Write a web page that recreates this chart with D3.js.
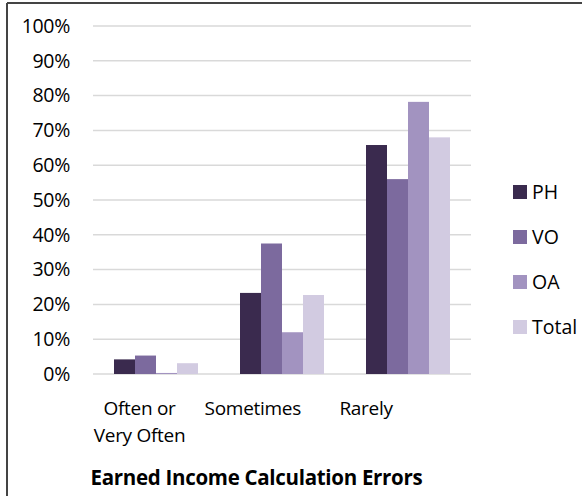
<!DOCTYPE html>
<html><head><meta charset="utf-8">
<script src="https://cdn.jsdelivr.net/npm/d3@7"></script>
<style>body{margin:0;background:#fff}svg{display:block}text{font-family:"Open Sans",sans-serif}</style>
</head><body>
<svg id="c" width="582" height="496"></svg>
<script>
const categories = ["Often or\nVery Often", "Sometimes", "Rarely"];
const seriesNames = ["PH", "VO", "OA", "Total"];
const PH = [4.2, 23.3, 65.8];
const VO = [5.3, 37.5, 56.0];
const OA = [0.3, 12.0, 78.2];
const Total = [3.1, 22.7, 68.0];
const yTicks = [0, 10, 20, 30, 40, 50, 60, 70, 80, 90, 100];
const colors = ["#3a2a4e", "#7c6a9e", "#a293c0", "#d2cbe1"];
const title = "Earned Income Calculation Errors";

const seriesVals = [PH, VO, OA, Total];
const svg = d3.select("#c");

// frame (left and top edges visible)
svg.append("line").attr("x1", 7).attr("x2", 582).attr("y1", 3).attr("y2", 3).attr("stroke", "#444").attr("stroke-width", 2);
svg.append("line").attr("x1", 7).attr("x2", 7).attr("y1", 3).attr("y2", 496).attr("stroke", "#444").attr("stroke-width", 2);

const x0 = d3.scaleBand().domain(categories).range([93, 471]).paddingInner(1/3).paddingOuter(1/6);
const x1 = d3.scaleBand().domain(seriesNames).range([0, x0.bandwidth()]);
const y = d3.scaleLinear().domain([0, 100]).range([374, 26]);
const xLab = d3.scalePoint().domain(categories).range([139.5, 366]);

// gridlines
svg.append("g").selectAll("line").data(yTicks).join("line")
  .attr("x1", 93).attr("x2", 471)
  .attr("y1", d => y(d)).attr("y2", d => y(d))
  .attr("stroke", "#d9d9d9").attr("stroke-width", 1.5);

// y axis labels
const yAxis = d3.axisLeft(y).tickValues(yTicks).tickFormat(d => d + "%").tickSize(0).tickPadding(0);
const gy = svg.append("g").attr("transform", "translate(70,0)").call(yAxis);
gy.select(".domain").remove();
gy.selectAll("text").attr("font-size", 19.5).attr("fill", "#000").attr("font-family", "Open Sans").attr("letter-spacing", -0.3);

// bars
const groups = svg.append("g").selectAll("g").data(categories).join("g")
  .attr("transform", c => `translate(${x0(c)},0)`);
groups.selectAll("rect").data((c, i) => seriesNames.map((s, j) => ({s, v: seriesVals[j][i]})))
  .join("rect")
  .attr("x", d => x1(d.s)).attr("width", x1.bandwidth())
  .attr("y", d => y(d.v)).attr("height", d => y(0) - y(d.v))
  .attr("fill", d => colors[seriesNames.indexOf(d.s)]);

// category labels
const cl = svg.append("g").selectAll("text").data(categories).join("text")
  .attr("text-anchor", "middle").attr("font-size", 19).attr("letter-spacing", -0.3).attr("fill", "#000");
cl.each(function(c) {
  const t = d3.select(this);
  c.split("\n").forEach((line, k) => {
    t.append("tspan").attr("x", xLab(c)).attr("y", 415 + k * 27).text(line);
  });
});

// title
svg.append("text").attr("x", 256.5).attr("y", 485).attr("text-anchor", "middle")
  .attr("font-size", 20.5).attr("font-weight", "bold").attr("letter-spacing", -0.3).attr("fill", "#000").text(title);

// legend
const lg = svg.append("g").selectAll("g").data(seriesNames).join("g")
  .attr("transform", (d, i) => `translate(513,${192 + i * 45})`);
lg.append("rect").attr("x", 0).attr("y", -7).attr("width", 14).attr("height", 14).attr("fill", (d, i) => colors[i]);
lg.append("text").attr("x", 19).attr("y", 0).attr("dy", "0.35em").attr("font-size", 19.5).attr("fill", "#000").text(d => d);
</script>
</body></html>
